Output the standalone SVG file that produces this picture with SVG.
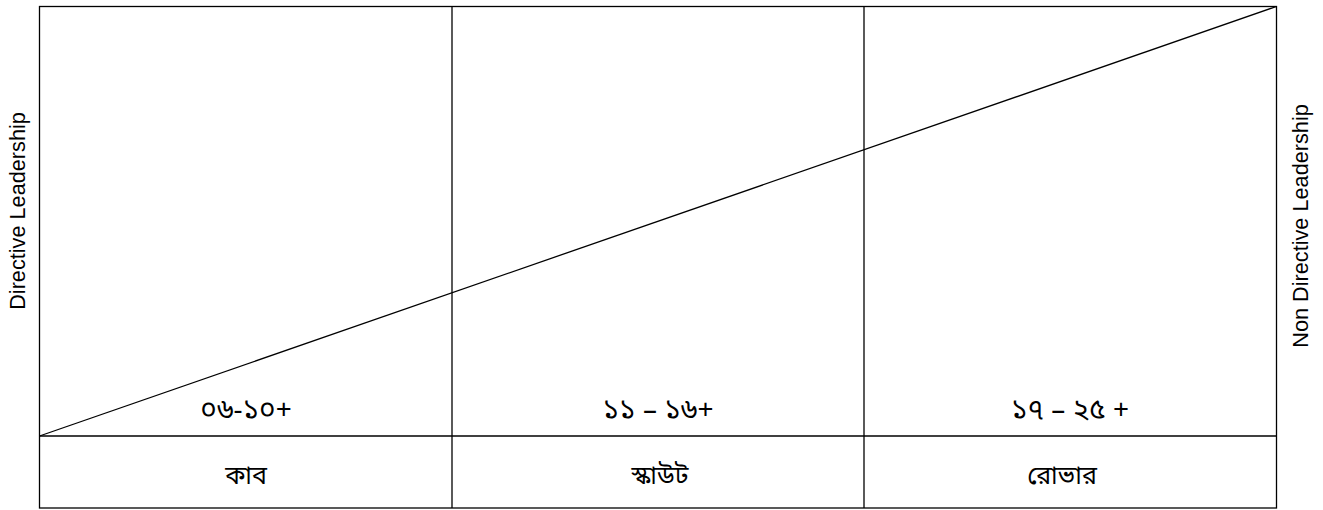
<svg xmlns="http://www.w3.org/2000/svg" width="1323" height="510" viewBox="0 0 1323 510">
<style>
.ln{stroke:#000;stroke-width:1.3;fill:none}
.bn{font-family:"Noto Sans Bengali","Noto Sans","DejaVu Sans",sans-serif;fill:#000;text-anchor:middle}
.en{font-family:"Liberation Sans",Arial,sans-serif;font-size:21.7px;fill:#000;text-anchor:middle}
</style>
<rect width="1323" height="510" fill="#fff"/>
<g id="connectors">
<rect class="ln" x="39.5" y="6.5" width="1237" height="501.5"/>
<line class="ln" x1="452" y1="6.5" x2="452" y2="508"/>
<line class="ln" x1="864" y1="6.5" x2="864" y2="508"/>
<line class="ln" x1="39.5" y1="436" x2="1276.5" y2="436"/>
<line class="ln" x1="39.5" y1="436" x2="1276.5" y2="6.5"/>
</g>
<g id="age-cub"><text class="bn" x="246" y="419" font-size="28">০৬-১০+</text></g>
<g id="age-scout"><text class="bn" x="658" y="419" font-size="28">১১ – ১৬+</text></g>
<g id="age-rover"><text class="bn" x="1070" y="419" font-size="28">১৭ – ২৫ +</text></g>
<g id="cub"><text class="bn" x="246" y="484" font-size="25">কাব</text></g>
<g id="scout"><text class="bn" x="660" y="484" font-size="25">স্কাউট</text></g>
<g id="rover"><text class="bn" x="1062" y="484" font-size="25">রোভার</text></g>
<g id="left-label"><text class="en" transform="translate(25,211) rotate(-90)">Directive Leadership</text></g>
<g id="right-label"><text class="en" transform="translate(1308,226) rotate(-90)">Non Directive Leadership</text></g>
</svg>
